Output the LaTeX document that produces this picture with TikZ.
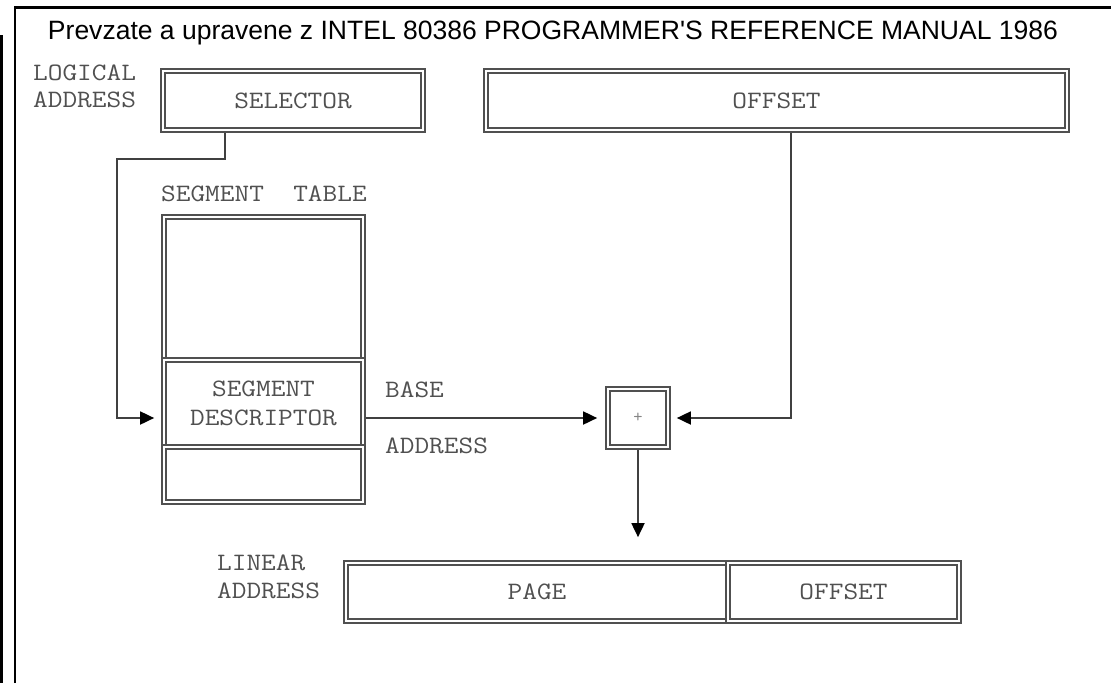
\documentclass[tikz,border=0pt]{standalone}
\usepackage{fontspec}
\usepackage{graphicx}
\newfontfamily\titlefont{Liberation Sans}
\usetikzlibrary{arrows.meta,calc}
\definecolor{ink}{HTML}{505050}
\definecolor{wire}{HTML}{404040}
\newcommand{\cw}[1]{\scalebox{1.14}[1]{#1}}
\pgfdeclarelayer{bg}
\pgfsetlayers{bg,main}
\begin{document}
\begin{tikzpicture}[x=1pt,y=-1pt,
  mono/.style={font=\ttfamily\fontsize{25}{28.5}\selectfont, text=ink},
  dbox/.style={draw=ink, double=white, double distance=2.8pt, line width=1.7pt, rectangle, inner sep=0pt, mono},
  wirestyle/.style={draw=wire, line width=1.8pt},
  arr/.style={wirestyle, -{Triangle[length=14pt,width=13pt,color=black]}},
  frameline/.style={draw=black, line width=2.6pt}
]
\useasboundingbox (0,0) rectangle (1111,683);
\draw[frameline, line width=3pt] (1.5,35) -- (1.5,683);
\draw[frameline] (15,683) -- (15,7.5) -- (1111,7.5);

\node[anchor=base, font=\titlefont] (title) at (553,39) {\resizebox{1010pt}{!}{Prevzate a upravene z INTEL 80386 PROGRAMMER'S REFERENCE MANUAL 1986}};

% logical address
\node[mono, anchor=base west, inner sep=0pt] (la1) at (33,80) {\cw{LOGICAL}};
\node[mono, anchor=base west, inner sep=0pt] (la2) at (33,107) {\cw{ADDRESS}};
\node[dbox, minimum width=260pt, minimum height=59pt] (sel) at (293,100.5) {\cw{SELECTOR}};
\node[dbox, minimum width=581pt, minimum height=59pt] (off) at (776.5,100.5) {\cw{OFFSET}};

% segment table
\node[mono, anchor=base west, inner sep=0pt] (stl) at (161,201) {\cw{SEGMENT\ \ TABLE}};
\node[dbox, minimum width=199pt, minimum height=143pt] (segtop) at (263.5,288.5) {};
\node[dbox, minimum width=199pt, minimum height=87pt, align=center] (desc) at (263.5,403.5) {\cw{SEGMENT}\\\cw{DESCRIPTOR}};
\node[dbox, minimum width=199pt, minimum height=55pt] (segbot) at (263.5,474.5) {};

\node[mono, anchor=base west, inner sep=0pt] (base1) at (385,397) {\cw{BASE}};
\node[mono, anchor=base west, inner sep=0pt] (base2) at (385,453) {\cw{ADDRESS}};

% adder
\node[dbox, minimum width=60pt, minimum height=58pt, font=\ttfamily\fontsize{18}{18}\selectfont, text=ink!70] (plus) at (638,418) {+};

% linear address
\node[mono, anchor=base west, inner sep=0pt] (lin1) at (217,570) {\cw{LINEAR}};
\node[mono, anchor=base west, inner sep=0pt] (lin2) at (217,598) {\cw{ADDRESS}};
\node[dbox, minimum width=382pt, minimum height=58pt] (page) at (537,592) {\cw{PAGE}};
\node[dbox, minimum width=231pt, minimum height=58pt] (loff) at (843.5,592) {\cw{OFFSET}};

\coordinate (selx) at (225,0);
\coordinate (bendL) at (117,159);
\coordinate (offx) at (791,0);
\coordinate (descin) at ($(desc.west |- plus)+(-9,0)$);
\coordinate (plusin) at ($(plus.west)+(-10,0)$);
\coordinate (plusin2) at ($(plus.east)+(8,0)$);
\coordinate (linin) at ($(plus.south |- page.north)+(0,-25)$);

\begin{pgfonlayer}{bg}
\draw[arr] (sel.south -| selx) |- (bendL) |- (descin);
\draw[arr] (desc.east |- plus) -- (plusin);
\draw[arr] (off.south -| offx) |- (plusin2);
\draw[arr] (plus.south) -- (linin);
\end{pgfonlayer}
\end{tikzpicture}
\end{document}
